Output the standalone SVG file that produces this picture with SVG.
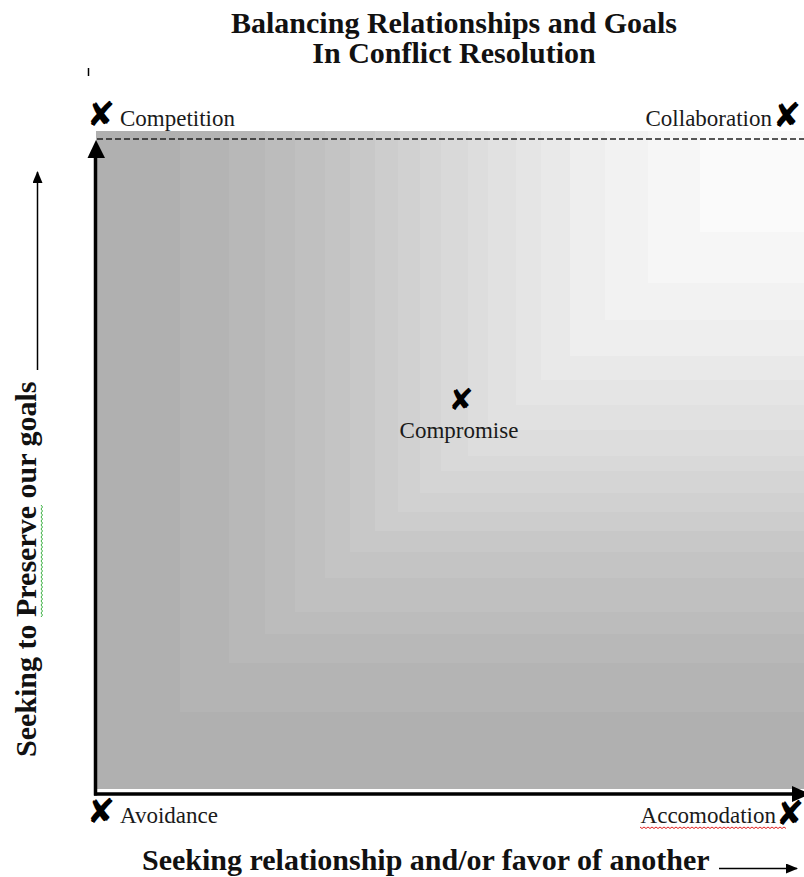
<svg xmlns="http://www.w3.org/2000/svg" width="804" height="877" viewBox="0 0 804 877">
  <style>
    .title { font-family: "Liberation Serif", "Times New Roman", serif; font-weight: bold; font-size: 30px; fill: #111; }
    .axis-label { font-family: "Liberation Serif", "Times New Roman", serif; font-weight: bold; font-size: 30px; fill: #111; }
    .label { font-family: "Liberation Serif", "Times New Roman", serif; font-size: 23px; fill: #1a1a1a; }
    .mark { font-family: "DejaVu Sans", sans-serif; font-size: 34px; fill: #000; }
    .axis { stroke: #000; stroke-width: 3.5; fill: none; }
    .thin { stroke: #000; stroke-width: 1.5; fill: none; }
    .dash { stroke: #222; stroke-width: 1.5; stroke-dasharray: 6 3; fill: none; }
  </style>
  <defs>
    <marker id="headSmall" viewBox="0 0 12 10" refX="11" refY="5" markerWidth="12" markerHeight="10" markerUnits="userSpaceOnUse" orient="auto">
      <path d="M0,0 L12,5 L0,10 Z" fill="#000"/>
    </marker>
  </defs>

  <rect width="804" height="877" fill="#fff"/>

  <!-- title -->
  <g id="title">
    <text class="title" x="454" y="33" text-anchor="middle">Balancing Relationships and Goals</text>
    <text class="title" x="454" y="63" text-anchor="middle">In Conflict Resolution</text>
  </g>
  <line x1="88.5" y1="68" x2="88.5" y2="76" stroke="#000" stroke-width="1.5"/>

  <!-- stepped corner gradient: dark at left/bottom, light toward top-right -->
  <g id="field">
    <rect x="96" y="131" width="708" height="658" fill="#b0b0b0"/>
    <rect x="180" y="131" width="624" height="581" fill="#b4b4b4"/>
    <rect x="229" y="131" width="575" height="532" fill="#b8b8b8"/>
    <rect x="265" y="131" width="539" height="503" fill="#bcbcbc"/>
    <rect x="295" y="131" width="509" height="481" fill="#c0c0c0"/>
    <rect x="325" y="131" width="479" height="447" fill="#c4c4c4"/>
    <rect x="350" y="131" width="454" height="421" fill="#c8c8c8"/>
    <rect x="375" y="131" width="429" height="400" fill="#cdcdcd"/>
    <rect x="398" y="131" width="406" height="381" fill="#d1d1d1"/>
    <rect x="420" y="131" width="384" height="362" fill="#d5d5d5"/>
    <rect x="441" y="131" width="363" height="340" fill="#d9d9d9"/>
    <rect x="468" y="131" width="336" height="325" fill="#dddddd"/>
    <rect x="488" y="131" width="316" height="299" fill="#e1e1e1"/>
    <rect x="516" y="131" width="288" height="274" fill="#e5e5e5"/>
    <rect x="541" y="131" width="263" height="249" fill="#e9e9e9"/>
    <rect x="570" y="131" width="234" height="225" fill="#eeeeee"/>
    <rect x="605" y="131" width="199" height="189" fill="#f2f2f2"/>
    <rect x="648" y="131" width="156" height="152" fill="#f6f6f6"/>
    <rect x="700" y="131" width="104" height="101" fill="#fafafa"/>
  </g>

  <!-- axes and direction arrows -->
  <g id="connectors">
    <line class="dash" x1="97" y1="139" x2="804" y2="139"/>
    <line class="axis" x1="95.5" y1="152" x2="95.5" y2="795.5"/>
    <polygon points="96,140 87.5,158 105,158" fill="#000"/>
    <line class="axis" x1="94" y1="794" x2="796" y2="794"/>
    <polygon points="792,786 810,794 792,802" fill="#000"/>
    <line class="thin" x1="37.5" y1="370" x2="37.5" y2="172" marker-end="url(#headSmall)"/>
    <line class="thin" x1="719" y1="868.5" x2="797" y2="868.5" marker-end="url(#headSmall)"/>
  </g>

  <!-- axis captions -->
  <g id="axis-y-label">
    <text class="axis-label" transform="translate(36,757) rotate(-90)">Seeking to Preserve our goals</text>
    <path d="M41,617 l1.5,-2 l-1.5,-2 l1.5,-2 l-1.5,-2 l1.5,-2 l-1.5,-2 l1.5,-2 l-1.5,-2 l1.5,-2 l-1.5,-2 l1.5,-2 l-1.5,-2 l1.5,-2 l-1.5,-2 l1.5,-2 l-1.5,-2 l1.5,-2 l-1.5,-2 l1.5,-2 l-1.5,-2 l1.5,-2 l-1.5,-2 l1.5,-2 l-1.5,-2 l1.5,-2 l-1.5,-2 l1.5,-2 l-1.5,-2 l1.5,-2 l-1.5,-2 l1.5,-2 l-1.5,-2 l1.5,-2 l-1.5,-2 l1.5,-2 l-1.5,-2 l1.5,-2 l-1.5,-2 l1.5,-2 l-1.5,-2 l1.5,-2 l-1.5,-2 l1.5,-2 l-1.5,-2 l1.5,-2 l-1.5,-2 l1.5,-2 l-1.5,-2 l1.5,-2 l-1.5,-2 l1.5,-2 l-1.5,-2 l1.5,-2 l-1.5,-2 l1.5,-2 l-1.5,-2" stroke="#3cb043" stroke-width="1" fill="none"/>
  </g>
  <g id="axis-x-label">
    <text class="axis-label" x="142" y="870">Seeking relationship and/or favor of another</text>
  </g>

  <!-- styles of conflict handling -->
  <g id="node-competition">
    <text class="mark" x="101" y="114" text-anchor="middle" dominant-baseline="central">✘</text>
    <text class="label" x="120" y="126">Competition</text>
  </g>
  <g id="node-collaboration">
    <text class="mark" x="787" y="115" text-anchor="middle" dominant-baseline="central">✘</text>
    <text class="label" x="772" y="126" text-anchor="end">Collaboration</text>
  </g>
  <g id="node-compromise">
    <text class="mark" x="461" y="399" text-anchor="middle" dominant-baseline="central" style="font-size:30px">✘</text>
    <text class="label" x="459" y="438" text-anchor="middle">Compromise</text>
  </g>
  <g id="node-avoidance">
    <text class="mark" x="101" y="811" text-anchor="middle" dominant-baseline="central">✘</text>
    <text class="label" x="120" y="823">Avoidance</text>
  </g>
  <g id="node-accomodation">
    <text class="mark" x="790" y="813" text-anchor="middle" dominant-baseline="central">✘</text>
    <text class="label" x="776" y="823" text-anchor="end">Accomodation</text>
    <path d="M640,827 l2,1.5 l2,-1.5 l2,1.5 l2,-1.5 l2,1.5 l2,-1.5 l2,1.5 l2,-1.5 l2,1.5 l2,-1.5 l2,1.5 l2,-1.5 l2,1.5 l2,-1.5 l2,1.5 l2,-1.5 l2,1.5 l2,-1.5 l2,1.5 l2,-1.5 l2,1.5 l2,-1.5 l2,1.5 l2,-1.5 l2,1.5 l2,-1.5 l2,1.5 l2,-1.5 l2,1.5 l2,-1.5 l2,1.5 l2,-1.5 l2,1.5 l2,-1.5 l2,1.5 l2,-1.5 l2,1.5 l2,-1.5 l2,1.5 l2,-1.5 l2,1.5 l2,-1.5 l2,1.5 l2,-1.5 l2,1.5 l2,-1.5 l2,1.5 l2,-1.5 l2,1.5 l2,-1.5 l2,1.5 l2,-1.5 l2,1.5 l2,-1.5 l2,1.5 l2,-1.5 l2,1.5 l2,-1.5 l2,1.5 l2,-1.5 l2,1.5 l2,-1.5 l2,1.5 l2,-1.5 l2,1.5 l2,-1.5 l2,1.5 l2,-1.5 l2,1.5 l2,-1.5 l2,1.5 l2,-1.5 l2,1.5" stroke="#e02020" stroke-width="1" fill="none"/>
  </g>
</svg>
